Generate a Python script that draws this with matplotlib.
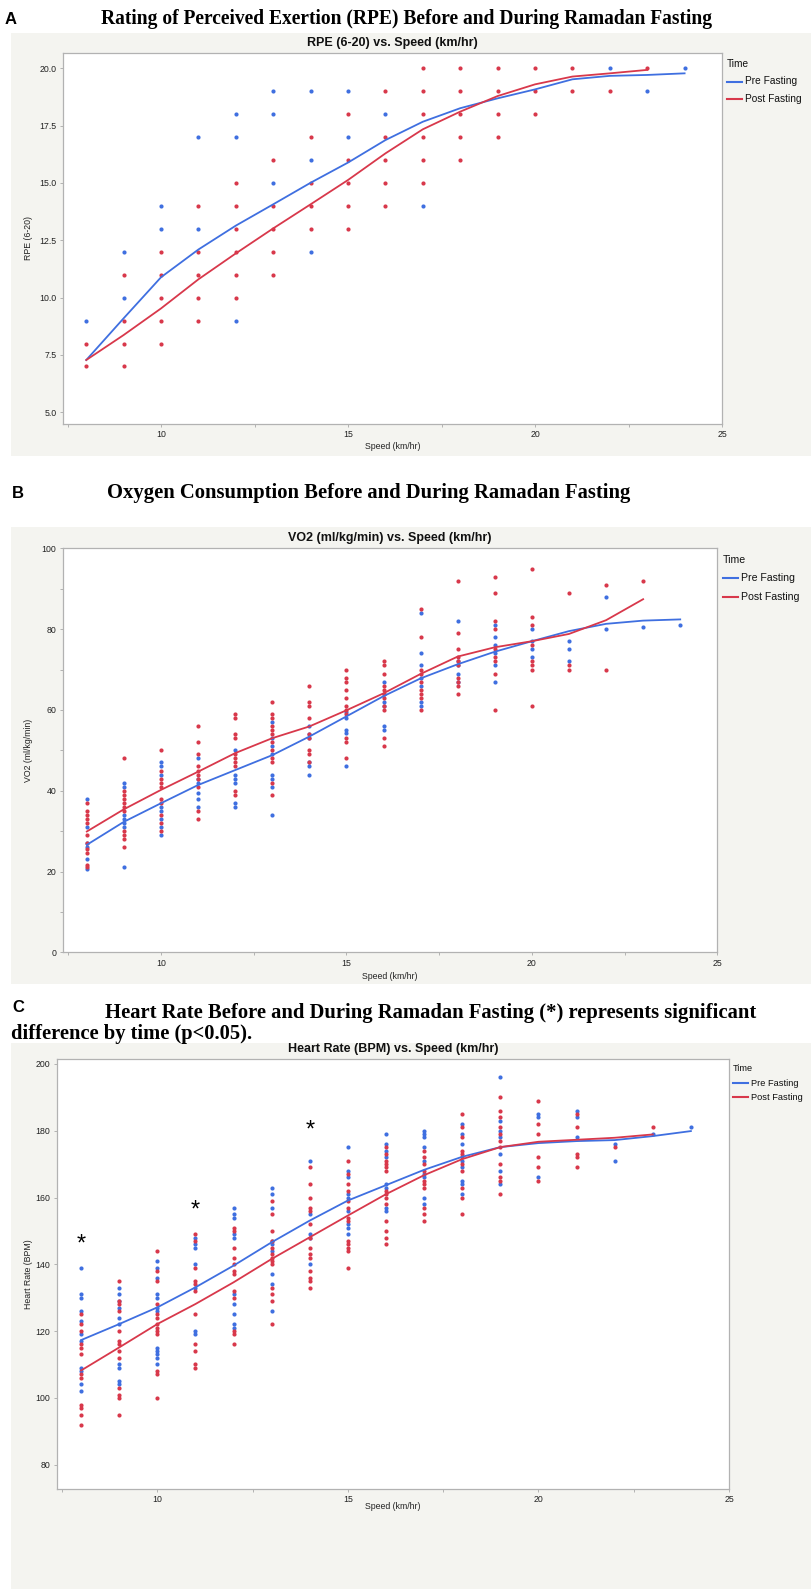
import matplotlib
matplotlib.use('Agg')
import matplotlib.pyplot as plt
from matplotlib.lines import Line2D
from matplotlib.patches import Rectangle

# ---- data ----
speeds = [8, 9, 10, 11, 12, 13, 14, 15, 16, 17, 18, 19, 20, 21, 22, 23, 24]

# A: RPE (6-20)
rpe_pre = [[9], [12, 10], [14, 13], [17, 13], [18, 17, 9], [19, 18, 15], [19, 16, 12],
           [19, 17], [18], [14], [], [], [], [], [20], [19], [20]]
rpe_post = [[8, 7], [11, 9, 8, 7], [12, 11, 10, 9, 8], [14, 12, 11, 10, 9],
            [15, 14, 13, 12, 11, 10], [16, 14, 13, 12, 11], [17, 15, 14, 13],
            [18, 16, 15, 14, 13], [19, 17, 16, 15, 14], [20, 19, 18, 17, 16, 15],
            [20, 19, 18, 17, 16], [20, 19, 18, 17], [20, 19, 18], [20, 19], [19], [20], []]
rpe_pre_fit = [7.28, 9.1, 10.89, 12.1, 13.14, 14.07, 15.01, 15.89, 16.87, 17.67, 18.26,
               18.69, 19.08, 19.52, 19.67, 19.71, 19.78]
rpe_post_fit = [7.28, 8.37, 9.53, 10.8, 11.93, 13.02, 14.07, 15.13, 16.29, 17.34, 18.11,
                18.79, 19.3, 19.64, 19.78, 19.93]

# B: VO2 (ml/kg/min)
vo2_pre = [[38, 31, 27, 26, 23, 20.5], [42, 41, 34, 33, 32, 31, 21],
           [47, 46, 44, 36, 35, 33, 31, 29], [48, 43, 42, 39.5, 38, 36],
           [50, 44, 43, 42, 37, 36], [57, 53, 51, 49, 44, 43, 41, 34],
           [56, 54, 53, 47, 46, 44], [59.5, 58, 55, 54.4, 46], [67, 64, 62, 61, 56, 55],
           [84, 74, 71, 68, 66, 62, 61], [82, 72, 71, 69, 67], [81, 78, 76, 74, 71, 67],
           [80, 77, 75, 73], [77, 75, 72], [88, 80], [80.5], [81]]
vo2_post = [[37, 35, 34, 33, 32, 29, 27, 25.5, 24.5, 21.5, 21],
            [48, 40, 39, 38, 37, 36, 35, 30, 29, 28, 26],
            [50, 45, 43, 42, 41, 38, 37, 34, 32, 30],
            [56, 52, 49, 46, 45, 44, 43, 41, 35, 33],
            [59, 58, 54, 53, 49, 48, 47, 46, 40, 39],
            [62, 59, 58, 56, 55, 54, 52, 50, 48, 47, 42, 39],
            [66, 62, 61, 58, 54, 53, 50, 49, 47],
            [70, 68, 67, 65, 63, 61, 60, 59, 53, 52, 48],
            [72, 71, 69, 66, 65, 64, 63, 61, 60, 53, 51],
            [85, 78, 70, 69, 67, 65, 64, 63, 60],
            [92, 79, 75, 73, 72, 71, 68, 67, 66, 64],
            [93, 89, 82, 80, 75, 73, 72, 69, 60],
            [95, 83, 81, 76, 72, 71, 70, 61],
            [89, 71, 70], [91, 70], [92], []]
vo2_pre_fit = [26.6, 32.3, 36.9, 41.4, 45.1, 48.8, 53.4, 58.4, 63.4, 67.8, 71.3, 74.4,
               77.0, 79.5, 81.3, 82.1, 82.4]
vo2_post_fit = [29.9, 35.4, 40.2, 44.7, 49.3, 53.0, 55.9, 59.9, 64.1, 68.9, 73.2, 75.5,
                77.0, 78.8, 82.2, 87.4]

# C: Heart rate (BPM)
hr_pre = [[139, 131, 130, 126, 123, 119, 117, 109, 108, 104, 102],
          [133, 131, 129, 127, 124, 122, 110, 109, 105, 104],
          [141, 139, 136, 131, 130, 127, 126, 115, 114, 113, 112, 110],
          [148, 146, 145, 140, 133, 120, 119],
          [157, 155, 154, 149, 148, 131, 128, 125, 122, 121],
          [163, 161, 157, 147, 146, 144, 137, 134, 126],
          [171, 155, 149, 148, 140],
          [175, 168, 166, 161, 160, 156, 152, 151, 149],
          [179, 176, 174, 172, 164, 163, 157, 156],
          [180, 179, 178, 175, 171, 167, 166, 160, 158],
          [182, 179, 176, 171, 169, 165, 164, 161],
          [196, 183, 180, 178, 173, 168, 164],
          [185, 184, 166], [186, 184, 178], [176, 171], [179], [181]]
hr_post = [[125, 122, 120, 116, 115, 113, 107, 106, 98, 97, 95, 92],
           [135, 129, 128, 126, 120, 117, 116, 114, 112, 103, 101, 100, 95],
           [144, 138, 135, 128, 125, 124, 122, 121, 120, 119, 108, 107, 100],
           [149, 147, 139, 135, 134, 132, 125, 116, 114, 110, 109],
           [151, 150, 145, 142, 140, 138, 137, 132, 130, 120, 119, 116],
           [159, 155, 150, 147, 145, 143, 142, 141, 140, 133, 131, 129, 122],
           [169, 164, 160, 157, 156, 152, 148, 145, 143, 142, 138, 136, 135, 133],
           [171, 167, 164, 162, 159, 157, 154, 153, 147, 146, 145, 144, 139],
           [175, 173, 171, 170, 169, 168, 162, 161, 160, 158, 153, 150, 148, 146],
           [174, 172, 170, 168, 165, 164, 163, 157, 155, 153],
           [185, 181, 178, 174, 173, 172, 170, 168, 163, 160, 155],
           [190, 186, 184, 181, 179, 177, 175, 170, 166, 165, 161],
           [189, 182, 179, 172, 169, 165], [185, 181, 173, 172, 169], [175], [181], []]
hr_pre_fit = [117.3, 122.1, 127.1, 133.1, 139.6, 146.6, 153.1, 159.1, 163.7, 168.3, 172.2,
              175.1, 176.3, 176.9, 177.2, 178.4, 179.9]
hr_post_fit = [108.2, 115.1, 122.1, 128.1, 134.6, 141.6, 148.1, 154.6, 161.0, 166.7, 171.5,
               175.1, 176.7, 177.3, 177.9, 178.9]
sig_speed = [8, 11, 14]
sig_hr = [148, 158, 182]

# ---- styling ----
BLUE = '#3F6FE0'
RED = '#D8384B'
PANEL_BG = '#F4F4F0'
SPINE = '#B2B2B2'
SANS = 'Liberation Sans'
SERIF = 'Liberation Serif'

W, H = 812, 1589
fig = plt.figure(figsize=(W / 100, H / 100), dpi=100)
fig.patch.set_facecolor('white')
renderer = fig.canvas.get_renderer()


def fx(x):
    return x / W


def fy(y):
    return 1 - y / H


def fit_text(x, y, s, width, **kw):
    # scale the font so the text spans the given pixel width
    t = fig.text(fx(x), fy(y), s, **kw)
    bb = t.get_window_extent(renderer)
    t.set_fontsize(t.get_fontsize() * width / bb.width)
    return t


def flat(vals):
    xs = [s for s, v in zip(speeds, vals) for _ in v]
    ys = [y for v in vals for y in v]
    return xs, ys


def panel(bg, box, data, xlim, ylim, yticks, ymin, yfmt, title, ylabel, xlab_y, leg, lfs):
    top, bottom = bg
    fig.add_artist(Rectangle((fx(11), fy(bottom)), fx(W - 11), (bottom - top) / H,
                             transform=fig.transFigure, facecolor=PANEL_BG,
                             edgecolor='none', zorder=-5))
    l, t, r, b = box
    ax = fig.add_axes([fx(l), fy(b), (r - l) / W, (b - t) / H])
    pre, post, pre_fit, post_fit = data
    x, y = flat(pre)
    ax.scatter(x, y, s=9, color=BLUE, linewidths=0, zorder=3)
    x, y = flat(post)
    ax.scatter(x, y, s=9, color=RED, linewidths=0, zorder=3)
    ax.plot(speeds[:len(pre_fit)], pre_fit, color=BLUE, lw=1.3, zorder=4)
    ax.plot(speeds[:len(post_fit)], post_fit, color=RED, lw=1.3, zorder=4)
    ax.set_xlim(*xlim)
    ax.set_ylim(*ylim)
    ax.set_xticks([10, 15, 20, 25])
    ax.set_xticks([7.5, 12.5, 17.5, 22.5], minor=True)
    ax.set_yticks(yticks)
    ax.set_yticklabels([yfmt % v for v in yticks])
    if ymin:
        ax.set_yticks(ymin, minor=True)
    ax.tick_params(which='both', direction='out', length=2.5, width=0.7, color=SPINE,
                   labelsize=6.3, labelcolor='#222222', pad=2)
    for lab in ax.get_xticklabels() + ax.get_yticklabels():
        lab.set_fontfamily(SANS)
    for sp in ax.spines.values():
        sp.set_color(SPINE)
        sp.set_linewidth(0.9)
    cx = (l + r) / 2
    fig.text(fx(cx), fy(t - 10), title, ha='center', va='center', fontsize=9,
             fontweight='bold', fontfamily=SANS, color='#111111')
    fig.text(fx(29), fy((t + b) / 2), ylabel, ha='center', va='center', rotation=90,
             fontsize=6.3, fontfamily=SANS, color='#222222')
    fig.text(fx(cx), fy(xlab_y), 'Speed (km/hr)', ha='center', va='center',
             fontsize=6.3, fontfamily=SANS, color='#222222')
    lx, ly, dy = leg
    fig.text(fx(lx), fy(ly), 'Time', ha='left', va='center', fontsize=lfs,
             fontfamily=SANS, color='#111111')
    for k, (name, col) in enumerate([('Pre Fasting', BLUE), ('Post Fasting', RED)]):
        yy = ly + dy * (k + 1)
        fig.add_artist(Line2D([fx(lx), fx(lx + 15)], [fy(yy), fy(yy)], color=col, lw=1.5,
                              transform=fig.transFigure))
        fig.text(fx(lx + 18), fy(yy), name, ha='left', va='center', fontsize=lfs,
                 fontfamily=SANS, color='#111111')
    return ax


# ---- panel A ----
fig.text(fx(5), fy(19), 'A', ha='left', va='center', fontsize=12, fontweight='bold',
         fontfamily=SANS)
fit_text(101, 19, 'Rating of Perceived Exertion (RPE) Before and During Ramadan Fasting',
         614, ha='left', va='center', fontsize=14, fontweight='bold', fontfamily=SERIF)
panel((33, 456), (62.7, 52.7, 722, 424),
      (rpe_pre, rpe_post, rpe_pre_fit, rpe_post_fit),
      (7.37, 25), (4.49, 20.68), [5, 7.5, 10, 12.5, 15, 17.5, 20], None, '%.1f',
      'RPE (6-20) vs. Speed (km/hr)', 'RPE (6-20)', 446.7, (727, 64, 17.5), 7.3)

# ---- panel B ----
fig.text(fx(12), fy(493), 'B', ha='left', va='center', fontsize=12, fontweight='bold',
         fontfamily=SANS)
fit_text(107.3, 493, 'Oxygen Consumption Before and During Ramadan Fasting',
         526, ha='left', va='center', fontsize=14, fontweight='bold', fontfamily=SERIF)
panel((526.7, 984), (62.7, 548.3, 717.3, 952.3),
      (vo2_pre, vo2_post, vo2_pre_fit, vo2_post_fit),
      (7.35, 25), (0, 100), [0, 20, 40, 60, 80, 100], [10, 30, 50, 70, 90], '%d',
      'VO2 (ml/kg/min) vs. Speed (km/hr)', 'VO2 (ml/kg/min)', 976, (722.7, 560, 18.5), 7.6)

# ---- panel C ----
fig.text(fx(12), fy(1007), 'C', ha='left', va='center', fontsize=12, fontweight='bold',
         fontfamily=SANS)
fit_text(105, 1013, 'Heart Rate Before and During Ramadan Fasting (*) represents significant',
         655, ha='left', va='center', fontsize=14, fontweight='bold', fontfamily=SERIF)
fit_text(11, 1033.5, 'difference by time (p<0.05).',
         242, ha='left', va='center', fontsize=14, fontweight='bold', fontfamily=SERIF)
axc = panel((1043, 1589), (56.7, 1059.3, 729, 1489),
            (hr_pre, hr_post, hr_pre_fit, hr_post_fit),
            (7.36, 25), (72.7, 201.4), [80, 100, 120, 140, 160, 180, 200], None, '%d',
            'Heart Rate (BPM) vs. Speed (km/hr)', 'Heart Rate (BPM)', 1506.7,
            (733.3, 1068.7, 14.3), 6.7)
for s, v in zip(sig_speed, sig_hr):
    axc.annotate('*', (s, v), xytext=(0, -9), textcoords='offset points', ha='center',
                 va='baseline', fontsize=17, fontfamily=SANS, color='black')

fig.savefig('out.png', dpi=100, facecolor='white')
